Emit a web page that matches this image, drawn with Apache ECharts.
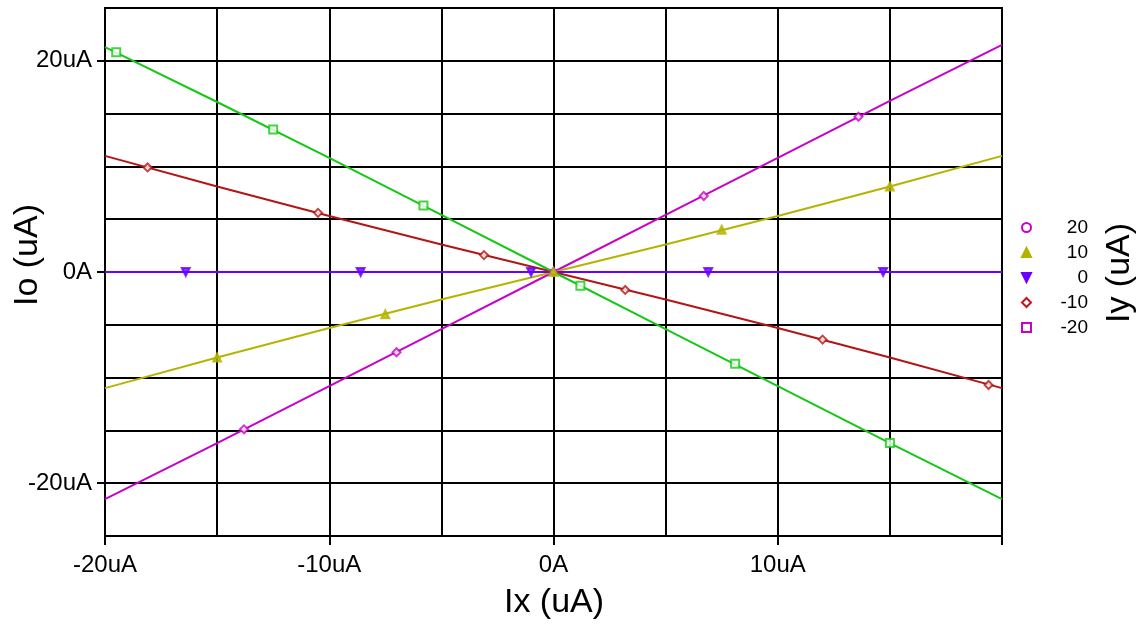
<!DOCTYPE html>
<html>
<head>
<meta charset="utf-8">
<script src="https://cdn.jsdelivr.net/npm/echarts@6/dist/echarts.min.js"></script>
<style>
  html, body { margin: 0; padding: 0; background: #fff; }
  #chart { width: 1143px; height: 624px; }
</style>
</head>
<body>
<div id="chart"></div>
<script>
// Output current Io versus input current Ix, one trace per Iy setting (uA)
const seriesNames = ['20', '10', '0', '-10', '-20'];
const seriesColors = ['#c800c8', '#b4b400', '#6a00ff', '#b41414', '#14c814'];
const legendColors = ['#c800c8', '#b4b400', '#6a00ff', '#c81414', '#c800c8'];

// Swept traces: [Ix, Io] in uA
const trace20 = [[-20, -21.5], [-15, -16.2], [-10, -10.8], [-5, -5.4], [0, 0], [5, 5.4], [10, 10.8], [15, 16.2], [20, 21.5]];
const trace10 = [[-20, -11.0], [-15, -8.1], [-10, -5.3], [-5, -2.6], [0, 0], [5, 2.6], [10, 5.3], [15, 8.1], [20, 11.0]];
const trace0 = [[-20, 0], [-10, 0], [0, 0], [10, 0], [20, 0]];
const traceM10 = [[-20, 11.0], [-15, 8.1], [-10, 5.3], [-5, 2.6], [0, 0], [5, -2.6], [10, -5.3], [15, -8.1], [20, -11.0]];
const traceM20 = [[-20, 21.3], [-15, 16.1], [-10, 10.8], [-5, 5.4], [0, 0], [5, -5.4], [10, -10.8], [15, -16.2], [20, -21.5]];

// Marker points along each trace: [Ix, Io] in uA
const marks20 = [[-13.8, -14.9], [-7.0, -7.6], [0, 0], [6.7, 7.2], [13.6, 14.7]];
const marks10 = [[-15.0, -8.1], [-7.5, -4.0], [0, 0], [7.5, 4.0], [15.0, 8.1]];
const marks0 = [[-16.4, 0], [-8.6, 0], [-1.0, 0], [6.9, 0], [14.7, 0]];
const marksM10 = [[-18.1, 9.9], [-10.5, 5.6], [-3.1, 1.6], [3.2, -1.7], [12.0, -6.4], [19.4, -10.7]];
const marksM20 = [[-19.5, 20.8], [-12.5, 13.5], [-5.8, 6.3], [1.2, -1.3], [8.1, -8.7], [15.0, -16.2]];

const traces = [trace20, trace10, trace0, traceM10, traceM20];
const marks = [marks20, marks10, marks0, marksM10, marksM20];
const markerShapes = ['emptyDiamond', 'triangle', 'path://M0,0 L10,0 L5,10 Z', 'emptyDiamond', 'emptyRect'];
const legendIcons = ['emptyCircle', 'triangle', 'path://M0,0 L10,0 L5,10 Z', 'emptyDiamond', 'emptyRect'];

// Axis tick labels
const xLabelValues = [-20, -10, 0, 10];
const xTickValues = [-20, -10, 0, 10, 20];
const yLabelValues = [-20, 0, 20];

const fmt = v => (v === 0 ? '0A' : v + 'uA');
const FONT = 'Liberation Sans';
const BLACK2 = { color: '#000', width: 2 };

const series = [];
seriesNames.forEach((name, i) => {
  series.push({
    name, type: 'line', xAxisIndex: 0, yAxisIndex: 0,
    data: traces[i], showSymbol: false, symbol: 'none',
    lineStyle: { color: seriesColors[i], width: 2 },
    itemStyle: { color: seriesColors[i] },
    animation: false, z: 3
  });
  series.push({
    name, type: 'scatter', xAxisIndex: 0, yAxisIndex: 0,
    data: marks[i], symbol: markerShapes[i], symbolSize: 8,
    itemStyle: { color: seriesColors[i], borderColor: seriesColors[i], borderWidth: 2 },
    animation: false, z: 4
  });
});

// Grid-only axis: 5 uA spacing for the split lines
const gridAxis = (min, max) => ({
  type: 'value', min, max, interval: 5,
  axisLine: { show: false }, axisTick: { show: false }, axisLabel: { show: false },
  splitLine: { show: true, lineStyle: BLACK2 }
});

const chart = echarts.init(document.getElementById('chart'), null, { renderer: 'canvas' });
chart.setOption({
  backgroundColor: '#fff',
  animation: false,
  grid: { left: 105, right: 141, top: 8, bottom: 88, show: true, borderColor: '#000', borderWidth: 2, backgroundColor: 'transparent' },
  xAxis: [{
    type: 'value', min: -20, max: 20, interval: 5,
    axisLine: { show: true, onZero: false, lineStyle: BLACK2 },
    axisTick: { show: true, length: 9, customValues: xTickValues, lineStyle: BLACK2 },
    axisLabel: { customValues: xLabelValues, formatter: fmt, margin: 17, color: '#000', fontFamily: FONT, fontSize: 24 },
    splitLine: { show: false }
  }, gridAxis(-20, 20)],
  yAxis: [{
    type: 'value', min: -25, max: 25, interval: 5,
    axisLine: { show: true, onZero: false, lineStyle: BLACK2 },
    axisTick: { show: true, length: 8, customValues: yLabelValues, lineStyle: BLACK2 },
    axisLabel: { customValues: yLabelValues, formatter: fmt, margin: 13, color: '#000', fontFamily: FONT, fontSize: 24 },
    splitLine: { show: false }
  }, gridAxis(-25, 25)],
  legend: {
    orient: 'vertical', left: 1016, top: 213, itemWidth: 9, itemHeight: 9, itemGap: 6,
    align: 'left', selectedMode: false,
    data: seriesNames.map((name, i) => ({
      name, icon: legendIcons[i],
      itemStyle: { color: legendColors[i], borderColor: legendColors[i], borderWidth: 2 }
    })),
    formatter: n => '{t|' + n + '}',
    textStyle: {
      rich: { t: { width: 52, align: 'right', fontFamily: FONT, fontSize: 19, color: '#000', lineHeight: 18 } }
    }
  },
  graphic: [
    { type: 'text', x: 554, y: 603, style: { text: 'Ix (uA)', font: '34px ' + FONT, fill: '#000', textAlign: 'center', textVerticalAlign: 'middle' } },
    { type: 'text', x: 28, y: 255, rotation: Math.PI / 2, style: { text: 'Io (uA)', font: '34px ' + FONT, fill: '#000', textAlign: 'center', textVerticalAlign: 'middle' } },
    { type: 'text', x: 1120, y: 273, rotation: Math.PI / 2, style: { text: 'Iy (uA)', font: '34px ' + FONT, fill: '#000', textAlign: 'center', textVerticalAlign: 'middle' } }
  ],
  series
});
</script>
</body>
</html>
